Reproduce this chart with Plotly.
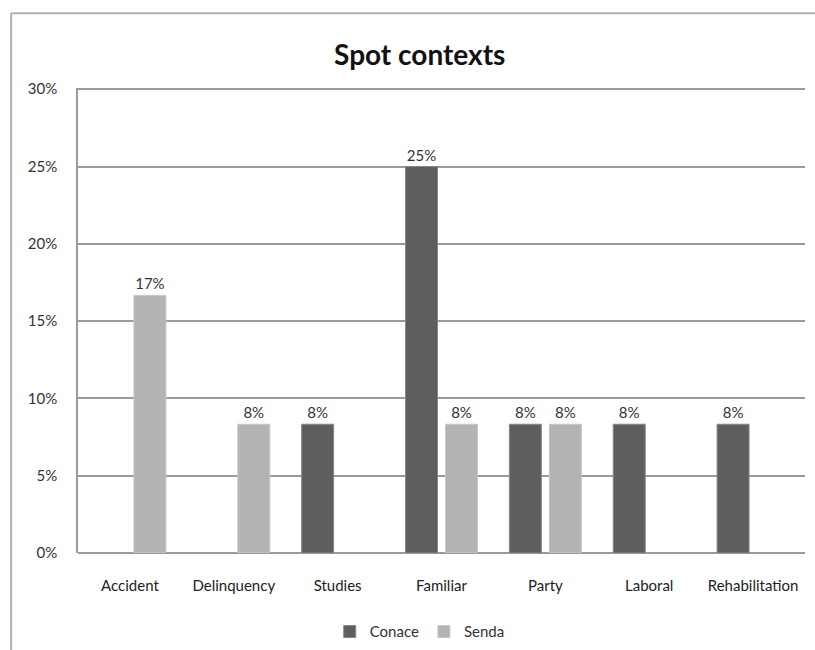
import plotly.graph_objects as go

categories = ["Accident", "Delinquency", "Studies", "Familiar", "Party", "Laboral", "Rehabilitation"]
conace = [None, None, 0.0833, 0.25, 0.0833, 0.0833, 0.0833]
senda = [0.1667, 0.0833, None, 0.0833, 0.0833, None, None]
y_ticks = [0, 0.05, 0.10, 0.15, 0.20, 0.25, 0.30]
y_tick_labels = ["0%", "5%", "10%", "15%", "20%", "25%", "30%"]

FONT = "Lato, 'Noto Sans', sans-serif"

fig = go.Figure()
fig.add_trace(go.Bar(
    name="Conace", x=categories, y=conace,
    marker=dict(color="#5e5e5e", line=dict(color="#888888", width=1)),
    texttemplate="%{y:.0%}", textposition="outside",
    textfont=dict(size=15, color="#333333", family=FONT), cliponaxis=False,
))
fig.add_trace(go.Bar(
    name="Senda", x=categories, y=senda,
    marker=dict(color="#b3b3b3", line=dict(color="#c8c8c8", width=1)),
    texttemplate="%{y:.0%}", textposition="outside",
    textfont=dict(size=15, color="#333333", family=FONT), cliponaxis=False,
))

fig.update_layout(
    width=815, height=650,
    margin=dict(l=78, r=10, t=88, b=97, autoexpand=False),
    paper_bgcolor="white", plot_bgcolor="white",
    barmode="group", bargap=0.23, bargroupgap=0.2,
    font=dict(family=FONT, size=15, color="#333333"),
    title=dict(text="<b>Spot contexts</b>", x=0.515, xanchor="center",
               y=0.915, yanchor="middle", yref="container",
               font=dict(size=28, color="#111111", family=FONT)),
    showlegend=True,
    legend=dict(orientation="h", x=0.515, xanchor="center", xref="container",
                y=0.028, yanchor="middle", yref="container",
                font=dict(size=15, color="#333333"), itemwidth=30,
                traceorder="normal"),
)
fig.update_xaxes(showgrid=False, showline=False, ticks="", tickfont=dict(size=15, color="#222222"),
                 ticklabelstandoff=22)
fig.update_yaxes(range=[0, 0.3008], tickvals=y_ticks, ticktext=y_tick_labels,
                 showgrid=True, gridcolor="#9a9a9a", gridwidth=1.5,
                 showline=True, linecolor="#9a9a9a", linewidth=1.5,
                 zeroline=True, zerolinecolor="#9a9a9a", zerolinewidth=1.5,
                 ticks="", ticklabelstandoff=16, tickfont=dict(size=15, color="#333333"))

# outer chart frame (top and left edges visible)
fig.add_shape(type="line", xref="paper", yref="paper", x0=-0.092, x1=1.02, y0=1.161, y1=1.161,
              line=dict(color="#b0b0b0", width=2))
fig.add_shape(type="line", xref="paper", yref="paper", x0=-0.092, x1=-0.092, y0=1.161, y1=-0.22,
              line=dict(color="#b0b0b0", width=2))

fig.write_html("out.html")
